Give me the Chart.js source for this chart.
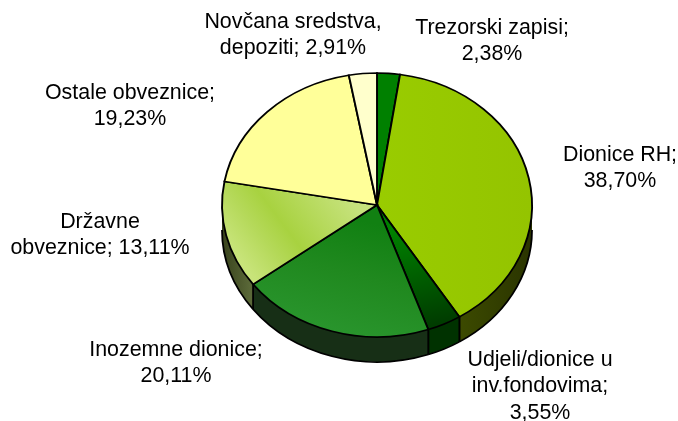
<!DOCTYPE html>
<html>
<head>
<meta charset="utf-8">
<script src="https://cdn.jsdelivr.net/npm/chart.js@4"></script>
<style>html,body{margin:0;padding:0;background:#fff}canvas{display:block}</style>
</head>
<body>
<canvas id="c" width="678" height="421"></canvas>
<script>
const categories = ['Trezorski zapisi', 'Dionice RH', 'Udjeli/dionice u inv.fondovima', 'Inozemne dionice', 'Državne obveznice', 'Ostale obveznice', 'Novčana sredstva, depoziti'];
const values = [2.38, 38.70, 3.55, 20.11, 13.11, 19.23, 2.91];
const labelLines = [
  ['Trezorski zapisi;', '2,38%'],
  ['Dionice RH;', '38,70%'],
  ['Udjeli/dionice u', 'inv.fondovima;', '3,55%'],
  ['Inozemne dionice;', '20,11%'],
  ['Državne', 'obveznice; 13,11%'],
  ['Ostale obveznice;', '19,23%'],
  ['Novčana sredstva,', 'depoziti; 2,91%']
];
const labelAnchors = [[492, 28], [620, 155], [540, 360], [176, 350], [100, 222], [130, 93], [293, 22]];
const LINE = 26.5, FONT = '21.4px "Liberation Sans", Arial, sans-serif';
const CX = 377, CY = 205, RX = 155, RY = 132, DEPTH = 25;
const K = RY / RX;
const canvas = document.getElementById('c');
const g = canvas.getContext('2d');
// gradient coordinates given in page pixels, converted to the un-squashed drawing space
const py = y => CY + (y - CY) / K;
function lin(x0, y0, x1, y1, stops) {
  const gr = g.createLinearGradient(x0, py(y0), x1, py(y1));
  stops.forEach(s => gr.addColorStop(s[0], s[1]));
  return gr;
}
const faces = [
  '#008000',
  lin(380, 200, 532, 200, [[0, '#99cc00'], [1, '#94c400']]),
  lin(400, 230, 430, 325, [[0, '#008000'], [1, '#003c00']]),
  lin(340, 215, 300, 330, [[0, '#118012'], [0.45, '#20891f'], [1, '#2a962e']]),
  lin(350, 200, 240, 260, [[0, '#c6e27c'], [0.55, '#a8d240'], [0.75, '#b5d95a'], [1, '#c8e47a']]),
  '#ffff99',
  '#ffffcc'
];
const sides = [
  '#006000',
  lin(460, 0, 532, 0, [[0, '#3c4a00'], [1, '#2a3400']]),
  '#003200',
  '#172f16',
  lin(222, 0, 250, 0, [[0, '#38421c'], [1, '#5a6838']]),
  '#777744',
  '#777755'
];
function applySquash(ctx, chart) {
  const a = chart.getDatasetMeta(0).data[0];
  ctx.translate(a.x, CY);
  ctx.scale(1, K);
  ctx.translate(-a.x, -a.y);
}
const pie3d = {
  id: 'pie3d',
  beforeDatasetsDraw(chart) {
    const ctx = chart.ctx, meta = chart.getDatasetMeta(0);
    ctx.save();
    applySquash(ctx, chart);
    const d = DEPTH / K;
    meta.data.forEach((arc, i) => {
      const a = Math.max(arc.startAngle, 0), b = Math.min(arc.endAngle, Math.PI);
      if (b <= a) return;
      const x = arc.x, y = arc.y, r = arc.outerRadius;
      ctx.beginPath();
      ctx.arc(x, y, r, a, b);
      ctx.arc(x, y + d, r, b, a, true);
      ctx.closePath();
      ctx.fillStyle = sides[i];
      ctx.fill();
      ctx.lineWidth = 1.8;
      ctx.strokeStyle = '#000';
      ctx.beginPath();
      ctx.arc(x, y + d, r, a, b);
      ctx.stroke();
      [[a, arc.startAngle], [b, arc.endAngle]].forEach(p => {
        if (p[0] !== p[1]) return;
        ctx.beginPath();
        ctx.moveTo(x + r * Math.cos(p[0]), y + r * Math.sin(p[0]));
        ctx.lineTo(x + r * Math.cos(p[0]), y + d + r * Math.sin(p[0]));
        ctx.stroke();
      });
    });
    ctx.restore();
    ctx.save();
    applySquash(ctx, chart);
  },
  afterDatasetsDraw(chart) {
    const ctx = chart.ctx;
    ctx.restore();
    ctx.save();
    ctx.font = FONT;
    ctx.fillStyle = '#000';
    ctx.textAlign = 'center';
    ctx.textBaseline = 'middle';
    labelLines.forEach((lines, i) => {
      lines.forEach((t, j) => ctx.fillText(t, labelAnchors[i][0], labelAnchors[i][1] + j * LINE));
    });
    ctx.restore();
  }
};
new Chart(canvas, {
  type: 'pie',
  data: {
    labels: categories,
    datasets: [{ data: values, backgroundColor: faces, borderColor: '#000', borderWidth: 1.9, borderJoinStyle: 'miter', clip: false, hoverOffset: 0 }]
  },
  options: {
    responsive: false,
    animation: false,
    radius: RX,
    layout: { padding: { left: 2 * CX - 678, top: 0, right: 0, bottom: 421 - 2 * 205 } },
    plugins: { legend: { display: false }, tooltip: { enabled: false } }
  },
  plugins: [pie3d]
});
</script>
</body>
</html>
